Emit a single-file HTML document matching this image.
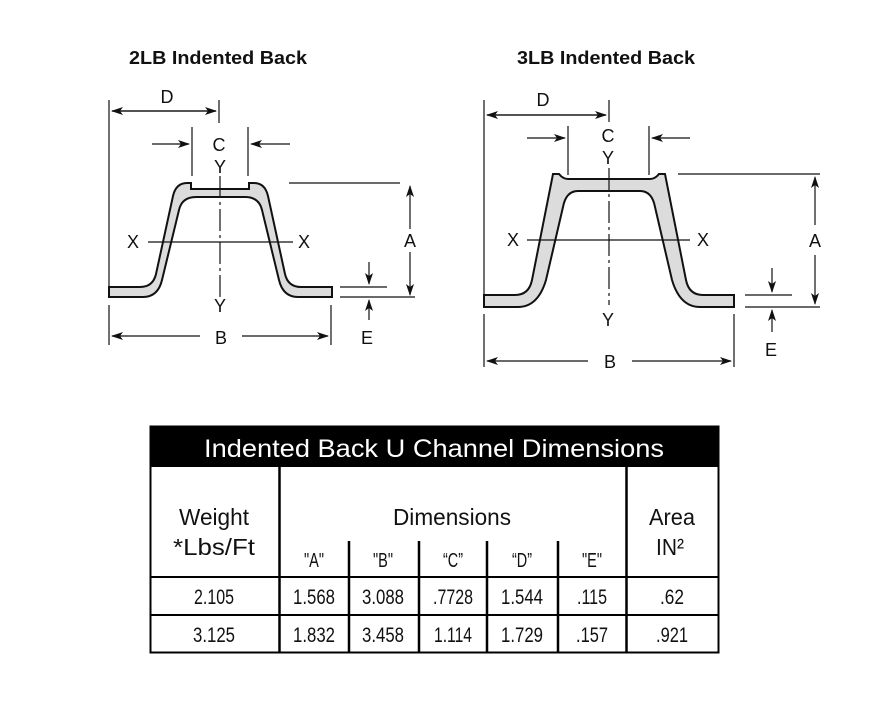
<!DOCTYPE html>
<html><head><meta charset="utf-8"><style>
html,body{margin:0;padding:0;background:#fff;}
svg{display:block;}
text{font-family:"Liberation Sans",sans-serif;fill:#111;}
</style></head><body>
<svg width="874" height="716" viewBox="0 0 874 716" xmlns="http://www.w3.org/2000/svg">
<defs>
<marker id="ar" markerWidth="12" markerHeight="8" refX="11" refY="4" orient="auto" markerUnits="userSpaceOnUse">
<path d="M0,0 L12,4 L0,8 L3,4 Z" fill="#111"/></marker>
</defs>
<text x="218" y="64" font-size="18" font-weight="bold" text-anchor="middle" textLength="178" lengthAdjust="spacingAndGlyphs">2LB Indented Back</text>
<text x="606" y="64" font-size="18" font-weight="bold" text-anchor="middle" textLength="178" lengthAdjust="spacingAndGlyphs">3LB Indented Back</text>

<g stroke="#111" stroke-width="1.2" fill="none">
<line x1="109" y1="100" x2="109" y2="290"/>
<line x1="219" y1="100" x2="219" y2="123"/>
<line x1="112" y1="111" x2="216" y2="111" marker-end="url(#ar)"/>
<line x1="216" y1="111" x2="112" y2="111" marker-end="url(#ar)"/>
<line x1="192" y1="127" x2="192" y2="176"/>
<line x1="248" y1="127" x2="248" y2="176"/>
<line x1="152" y1="144" x2="189" y2="144" marker-end="url(#ar)"/>
<line x1="290" y1="144" x2="251" y2="144" marker-end="url(#ar)"/>
<path d="M109,287 L140,287 Q153,287 156,274 L173,196 Q176,183 187,183 L191,183 L191,189 L249,189 L249,183 L254,183 Q265,183 268,196 L285,274 Q288,287 301,287 L332,287 L332,297 L298,297 Q283,297 279,280 L262,210 Q259,197 245,197 L196,197 Q182,197 179,210 L162,280 Q158,297 143,297 L109,297 Z" fill="#dcdcdc" stroke-width="2"/>
<line x1="148" y1="242" x2="293" y2="242"/>
<line x1="220" y1="176" x2="220" y2="300" stroke-dasharray="22,4,3,4"/>
<line x1="289" y1="183" x2="400" y2="183"/>
<line x1="410" y1="229" x2="410" y2="186" marker-end="url(#ar)"/>
<line x1="410" y1="252" x2="410" y2="295" marker-end="url(#ar)"/>
<line x1="340" y1="287" x2="387" y2="287"/>
<line x1="340" y1="297" x2="415" y2="297"/>
<line x1="369" y1="262" x2="369" y2="284" marker-end="url(#ar)"/>
<line x1="369" y1="320" x2="369" y2="300" marker-end="url(#ar)"/>
<line x1="109" y1="305" x2="109" y2="345"/>
<line x1="331" y1="305" x2="331" y2="345"/>
<line x1="200" y1="336" x2="112" y2="336" marker-end="url(#ar)"/>
<line x1="242" y1="336" x2="328" y2="336" marker-end="url(#ar)"/>

<line x1="484" y1="100" x2="484" y2="307"/>
<line x1="609" y1="100" x2="609" y2="122"/>
<line x1="487" y1="115" x2="606" y2="115" marker-end="url(#ar)"/>
<line x1="606" y1="115" x2="487" y2="115" marker-end="url(#ar)"/>
<line x1="568" y1="126" x2="568" y2="175"/>
<line x1="649" y1="126" x2="649" y2="175"/>
<line x1="527" y1="138" x2="565" y2="138" marker-end="url(#ar)"/>
<line x1="690" y1="138" x2="652" y2="138" marker-end="url(#ar)"/>
<path d="M484,295 L515,295 Q529,295 532,280 L553,174 L559,174 Q563,179 568,179 L650,179 Q655,179 659,174 L665,174 L686,280 Q689,295 703,295 L734,295 L734,307 L700,307 Q680,307 672,280 L655,207 Q652,191 640,191 L578,191 Q566,191 563,207 L546,280 Q538,307 518,307 L484,307 Z" fill="#dcdcdc" stroke-width="2"/>
<line x1="527" y1="240" x2="690" y2="240"/>
<line x1="609" y1="168" x2="609" y2="305" stroke-dasharray="22,4,3,4"/>
<line x1="678" y1="174" x2="820" y2="174"/>
<line x1="815" y1="225" x2="815" y2="177" marker-end="url(#ar)"/>
<line x1="815" y1="255" x2="815" y2="304" marker-end="url(#ar)"/>
<line x1="745" y1="295" x2="792" y2="295"/>
<line x1="745" y1="307" x2="820" y2="307"/>
<line x1="772" y1="268" x2="772" y2="292" marker-end="url(#ar)"/>
<line x1="772" y1="332" x2="772" y2="310" marker-end="url(#ar)"/>
<line x1="484" y1="314" x2="484" y2="367"/>
<line x1="734" y1="314" x2="734" y2="367"/>
<line x1="588" y1="361" x2="487" y2="361" marker-end="url(#ar)"/>
<line x1="632" y1="361" x2="731" y2="361" marker-end="url(#ar)"/>
</g>

<g font-size="18" text-anchor="middle">
<text x="167" y="103">D</text>
<text x="219" y="151">C</text>
<text x="220" y="173">Y</text>
<text x="220" y="312">Y</text>
<text x="133" y="248">X</text>
<text x="304" y="248">X</text>
<text x="410" y="247">A</text>
<text x="367" y="344">E</text>
<text x="221" y="344">B</text>
<text x="543" y="106">D</text>
<text x="608" y="142">C</text>
<text x="608" y="164">Y</text>
<text x="608" y="326">Y</text>
<text x="513" y="246">X</text>
<text x="703" y="246">X</text>
<text x="815" y="247">A</text>
<text x="771" y="356">E</text>
<text x="610" y="368">B</text>
</g>

<rect x="150" y="426" width="569" height="41" fill="#000"/>
<text x="434" y="457" font-size="25" text-anchor="middle" style="fill:#fff" textLength="460" lengthAdjust="spacingAndGlyphs">Indented Back U Channel Dimensions</text>
<g stroke="#000" fill="none">
<rect x="150.5" y="426.5" width="568" height="226" stroke-width="2"/>
<line x1="279.5" y1="467" x2="279.5" y2="653" stroke-width="2.5"/>
<line x1="626.5" y1="467" x2="626.5" y2="653" stroke-width="2.5"/>
<line x1="349" y1="541" x2="349" y2="653" stroke-width="2.5"/>
<line x1="419" y1="541" x2="419" y2="653" stroke-width="2.5"/>
<line x1="487" y1="541" x2="487" y2="653" stroke-width="2.5"/>
<line x1="558" y1="541" x2="558" y2="653" stroke-width="2.5"/>
<line x1="150" y1="577" x2="719" y2="577" stroke-width="2"/>
<line x1="150" y1="615" x2="719" y2="615" stroke-width="2"/>
</g>
<g font-size="23" text-anchor="middle">
<text x="214" y="525" textLength="70" lengthAdjust="spacingAndGlyphs">Weight</text>
<text x="214" y="555" textLength="82" lengthAdjust="spacingAndGlyphs">*Lbs/Ft</text>
<text x="452" y="525" textLength="118" lengthAdjust="spacingAndGlyphs">Dimensions</text>
<text x="672" y="525" textLength="46" lengthAdjust="spacingAndGlyphs">Area</text>
<text x="670" y="555" textLength="28" lengthAdjust="spacingAndGlyphs">IN²</text>
</g>
<g font-size="20" text-anchor="middle">
<text x="314" y="567" textLength="20" lengthAdjust="spacingAndGlyphs">"A"</text>
<text x="383" y="567" textLength="20" lengthAdjust="spacingAndGlyphs">"B"</text>
<text x="453" y="567" textLength="20" lengthAdjust="spacingAndGlyphs">“C”</text>
<text x="522" y="567" textLength="20" lengthAdjust="spacingAndGlyphs">“D”</text>
<text x="592" y="567" textLength="20" lengthAdjust="spacingAndGlyphs">"E"</text>
</g>
<g font-size="21" text-anchor="middle">
<text x="214" y="604" textLength="40" lengthAdjust="spacingAndGlyphs">2.105</text>
<text x="314" y="604" textLength="42" lengthAdjust="spacingAndGlyphs">1.568</text>
<text x="383" y="604" textLength="42" lengthAdjust="spacingAndGlyphs">3.088</text>
<text x="453" y="604" textLength="40" lengthAdjust="spacingAndGlyphs">.7728</text>
<text x="522" y="604" textLength="42" lengthAdjust="spacingAndGlyphs">1.544</text>
<text x="592" y="604" textLength="30" lengthAdjust="spacingAndGlyphs">.115</text>
<text x="672" y="604" textLength="24" lengthAdjust="spacingAndGlyphs">.62</text>
<text x="214" y="642" textLength="42" lengthAdjust="spacingAndGlyphs">3.125</text>
<text x="314" y="642" textLength="42" lengthAdjust="spacingAndGlyphs">1.832</text>
<text x="383" y="642" textLength="42" lengthAdjust="spacingAndGlyphs">3.458</text>
<text x="453" y="642" textLength="38" lengthAdjust="spacingAndGlyphs">1.114</text>
<text x="522" y="642" textLength="42" lengthAdjust="spacingAndGlyphs">1.729</text>
<text x="592" y="642" textLength="32" lengthAdjust="spacingAndGlyphs">.157</text>
<text x="672" y="642" textLength="32" lengthAdjust="spacingAndGlyphs">.921</text>
</g>
</svg>
</body></html>
